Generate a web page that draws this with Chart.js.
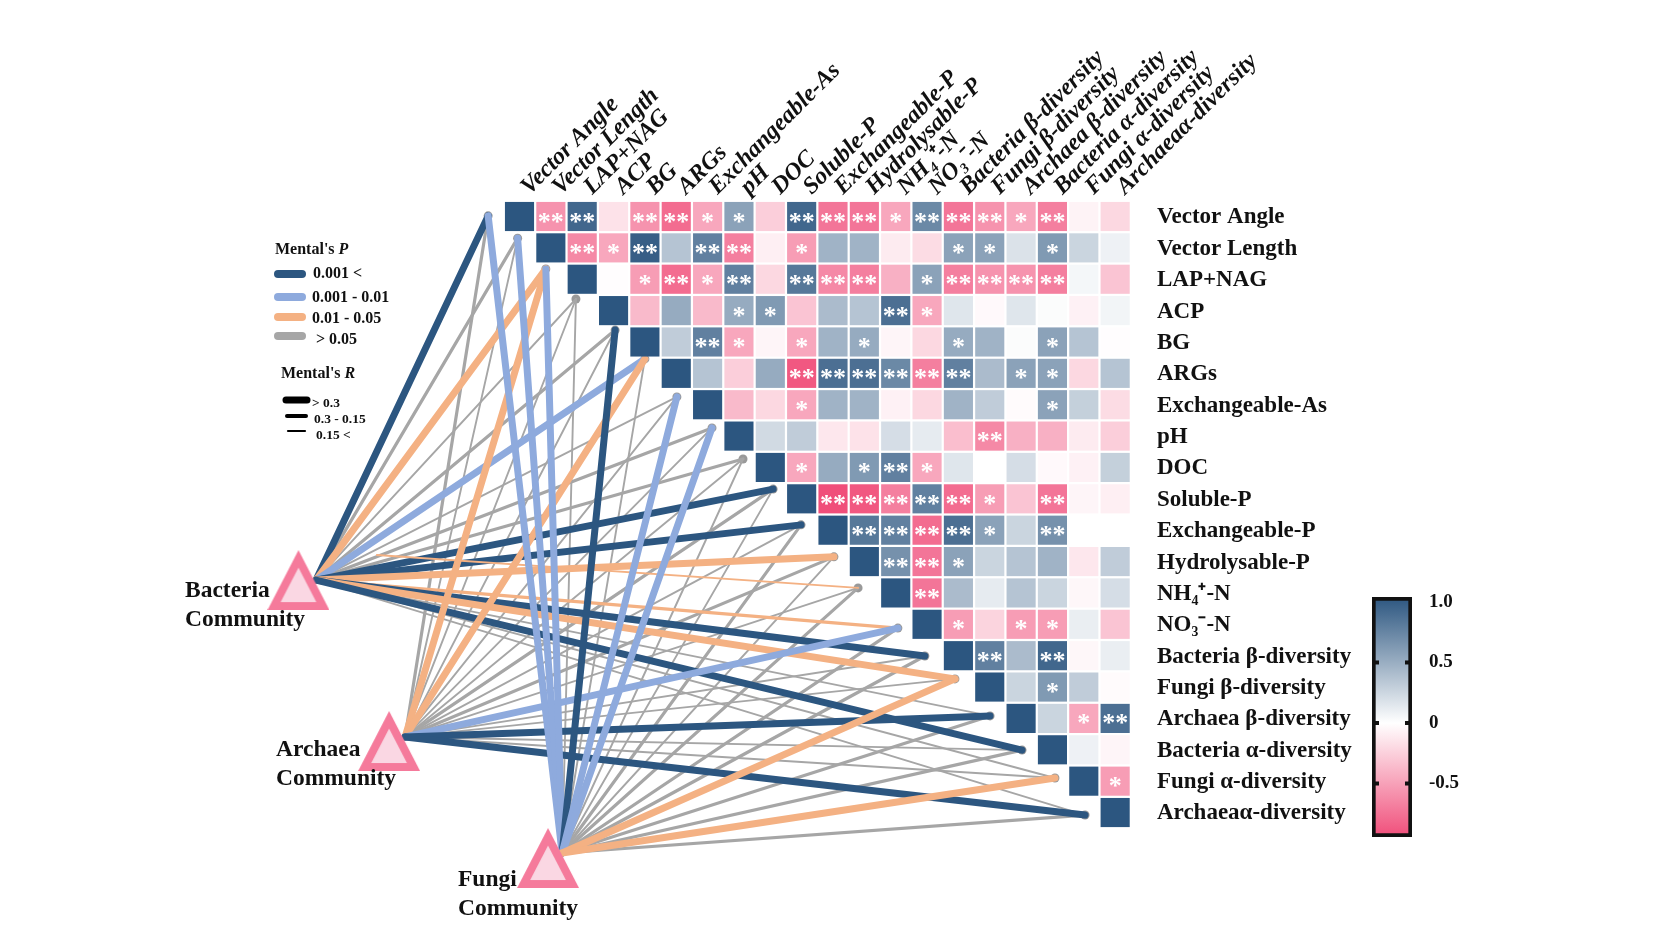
<!DOCTYPE html>
<html>
<head>
<meta charset="utf-8">
<title>Mantel correlation</title>
<script src="https://cdn.jsdelivr.net/npm/chart.js@4"></script>
<style>
  html, body { margin: 0; background: #fff; }
  #wrap { position: relative; width: 1662px; height: 935px; overflow: hidden; }
  canvas { position: absolute; filter: blur(0.5px); }
</style>
</head>
<body>
<div id="wrap">
  <canvas id="main" width="1662" height="935" style="left:0;top:0"></canvas>
  <canvas id="bar" width="130" height="270" style="left:1360px;top:585px"></canvas>
</div>
<script>
const categories = ["Vector Angle", "Vector Length", "LAP+NAG", "ACP", "BG", "ARGs", "Exchangeable-As", "pH", "DOC",
  "Soluble-P", "Exchangeable-P", "Hydrolysable-P", "NH₄⁺-N", "NO₃⁻-N", "Bacteria β-diversity", "Fungi β-diversity",
  "Archaea β-diversity", "Bacteria α-diversity", "Fungi α-diversity", "Archaeaα-diversity"];

// upper triangle, each row starts on the diagonal
const corr = [
  [1, -.55, .9, -.15, -.55, -.75, -.45, .55, -.25, .9, -.7, -.7, -.45, .7, -.7, -.55, -.45, -.65, -.06, -.2],
  [1, -.6, -.45, .95, .35, .75, -.65, -.08, -.5, .45, .45, -.1, -.18, .55, .55, .17, .6, .25, .08],
  [1, -.01, -.5, -.75, -.45, .75, -.2, .8, -.6, -.65, -.4, .55, -.65, -.55, -.55, -.65, .05, -.3],
  [1, -.35, .5, -.35, .5, .6, -.3, .4, .35, .85, -.45, .15, -.03, .15, .02, -.07, .06],
  [1, .3, .75, -.45, -.05, -.45, .45, .5, -.05, -.2, .5, .45, .02, .55, .35, -.01],
  [1, .35, -.25, .5, -.85, .85, .85, .7, -.65, .75, .4, .55, .55, -.2, .35],
  [1, -.35, -.2, -.45, .45, .45, -.07, -.2, .45, .3, -.02, .55, .28, -.18],
  [1, .22, .3, -.12, -.15, .2, .12, -.33, -.6, -.4, -.4, -.1, -.25],
  [1, -.45, .5, .6, .75, -.45, .15, 0, .2, -.03, -.07, .28],
  [1, -.9, -.85, -.65, .75, -.75, -.5, -.3, -.7, -.05, -.08],
  [1, .8, .75, -.75, .85, .55, .25, .65, 0, 0],
  [1, .65, -.7, .55, .25, .35, .45, -.12, .3],
  [1, -.7, .4, .12, .35, .25, -.04, .2],
  [1, -.5, -.22, -.5, -.5, .1, -.3],
  [1, .75, .4, .9, -.04, .1],
  [1, .25, .6, .3, -.02],
  [1, .25, -.45, .85],
  [1, .08, -.05],
  [1, -.5],
  [1]
];

// number of asterisks per cell, same shape as corr
const stars = [
  [0, 2, 2, 0, 2, 2, 1, 1, 0, 2, 2, 2, 1, 2, 2, 2, 1, 2, 0, 0],
  [0, 2, 1, 2, 0, 2, 2, 0, 1, 0, 0, 0, 0, 1, 1, 0, 1, 0, 0],
  [0, 0, 1, 2, 1, 2, 0, 2, 2, 2, 0, 1, 2, 2, 2, 2, 0, 0],
  [0, 0, 0, 0, 1, 1, 0, 0, 0, 2, 1, 0, 0, 0, 0, 0, 0],
  [0, 0, 2, 1, 0, 1, 0, 1, 0, 0, 1, 0, 0, 1, 0, 0],
  [0, 0, 0, 0, 2, 2, 2, 2, 2, 2, 0, 1, 1, 0, 0],
  [0, 0, 0, 1, 0, 0, 0, 0, 0, 0, 0, 1, 0, 0],
  [0, 0, 0, 0, 0, 0, 0, 0, 2, 0, 0, 0, 0],
  [0, 1, 0, 1, 2, 1, 0, 0, 0, 0, 0, 0],
  [0, 2, 2, 2, 2, 2, 1, 0, 2, 0, 0],
  [0, 2, 2, 2, 2, 1, 0, 2, 0, 0],
  [0, 2, 2, 1, 0, 0, 0, 0, 0],
  [0, 2, 0, 0, 0, 0, 0, 0],
  [0, 1, 0, 1, 1, 0, 0],
  [0, 2, 0, 2, 0, 0],
  [0, 0, 1, 0, 0],
  [0, 0, 1, 2],
  [0, 0, 0],
  [0, 1],
  [0]
];

// Mantel classes per variable. P: 0 <0.001, 1 0.001-0.01, 2 0.01-0.05, 3 >0.05. R: 0 >0.3, 1 0.3-0.15, 2 <0.15
const bacteriaP = [0, 3, 2, 3, 3, 1, 3, 3, 3, 0, 0, 2, 2, 2, 0, 2, 3, 0, 3, 3];
const bacteriaR = [0, 1, 0, 2, 1, 0, 2, 1, 1, 0, 0, 0, 2, 1, 0, 0, 2, 0, 2, 2];
const archaeaP = [3, 3, 2, 3, 3, 2, 3, 3, 3, 3, 3, 3, 3, 1, 3, 3, 0, 3, 3, 0];
const archaeaR = [1, 2, 0, 2, 2, 0, 2, 2, 2, 1, 2, 1, 2, 0, 2, 2, 0, 2, 2, 0];
const fungiP = [1, 1, 1, 3, 0, 3, 1, 1, 3, 3, 3, 3, 3, 3, 3, 2, 3, 3, 2, 3];
const fungiR = [0, 0, 0, 2, 0, 2, 0, 0, 2, 2, 1, 2, 1, 1, 1, 0, 1, 1, 0, 1];

// link ends next to the diagonal, in cell units of the x / y scales
const nodeCol = [-1, -.06, .84, 1.8, 3.05, 4, 5.02, 6.14, 7.13, 8.09, 8.98, 10.03, 10.8, 12.07, 12.93, 13.89, 15.01, 16.03, 17.08, 18.04];
const nodeRow = [-.02, .69, 1.67, 2.63, 3.62, 4.54, 5.75, 6.74, 7.73, 8.69, 9.83, 10.85, 11.84, 13.12, 14.01, 14.74, 15.92, 17.01, 17.9, 19.08];

const pLegend = ["0.001 <", "0.001 - 0.01", "0.01 - 0.05", "> 0.05"];
const rLegend = ["> 0.3", "0.3 - 0.15", "0.15 <"];
const barTicks = [1, .5, 0, -.5];
const barTickLabels = ["1.0", "0.5", "0", "-0.5"];

const pColors = ["#2c5680", "#8eaadd", "#f4b183", "#a6a6a6"];
const rWidths = [7, 3.2, 1.9];
const serif = '"Liberation Serif"';
const pxPerCol = 31.35, pxPerRow = 31.37;

const communities = [
  { name: "Bacteria", p: bacteriaP, r: bacteriaR, tri: [-7.05, 11.59], from: [-6.49, 11.59], text: [185, 591, 620] },
  { name: "Archaea", p: archaeaP, r: archaeaR, tri: [-4.16, 16.72], from: [-3.65, 16.59], text: [276, 750, 779] },
  { name: "Fungi", p: fungiP, r: fungiR, tri: [.91, 20.45], from: [1.36, 20.29], text: [458, 880, 909] }
];

function cellColor(v) {
  const end = v >= 0 ? [44, 86, 128] : [240, 78, 122];
  const t = Math.min(1, v >= 0 ? v : -v / .9);
  const c = end.map(e => Math.round(255 + (e - 255) * t));
  return `rgb(${c[0]},${c[1]},${c[2]})`;
}

// the community triangles are a bit taller than the built-in equilateral one
function triangleStyle(w, h, t) {
  const cv = document.createElement("canvas");
  cv.width = w;
  cv.height = h;
  const c = cv.getContext("2d");
  const half = Math.atan((w / 2) / h);
  const top = t / Math.sin(half);
  const inner = (h - t - top) * Math.tan(half);
  c.fillStyle = "#f57a9b";
  c.beginPath(); c.moveTo(w / 2, 0); c.lineTo(w, h); c.lineTo(0, h); c.closePath(); c.fill();
  c.fillStyle = "#fad7e3";
  c.beginPath(); c.moveTo(w / 2, top); c.lineTo(w / 2 + inner, h - t); c.lineTo(w / 2 - inner, h - t); c.closePath(); c.fill();
  return cv;
}

const cellData = [];
corr.forEach((row, i) => row.forEach((v, k) => {
  cellData.push({ x: i + k, y: i, v: v, s: stars[i][k] });
}));

// bottom dataset first, reversed below because Chart.js paints dataset 0 last
const datasets = [];
function linkDataset(c, j) {
  // the NH4 line of Bacteria starts short of the triangle in the original
  const start = c.name === "Bacteria" && j === 12 ? [-4.55, 10.79] : c.from;
  return {
    showLine: true,
    data: [{ x: start[0], y: start[1] }, { x: nodeCol[j], y: nodeRow[j] }],
    borderColor: pColors[c.p[j]],
    borderWidth: rWidths[c.r[j]],
    borderCapStyle: "round",
    pointRadius: 0
  };
}
datasets.push({
  data: nodeCol.map((x, i) => ({ x: x, y: nodeRow[i] })),
  pointRadius: 4.5, pointBackgroundColor: "#999", pointBorderWidth: 0
});
communities.forEach(c => c.p.forEach((p, j) => { if (p === 3) datasets.push(linkDataset(c, j)); }));
communities.forEach(c => c.p.forEach((p, j) => { if (p !== 3) datasets.push(linkDataset(c, j)); }));
datasets.push({
  data: communities.map(c => ({ x: c.tri[0], y: c.tri[1] })),
  pointStyle: triangleStyle(62, 60, 8), pointRadius: 30
});
datasets.push({
  data: cellData,
  pointStyle: "rect", pointRadius: 20.6, pointBorderWidth: 0,
  pointBackgroundColor: ctx => cellColor(ctx.raw.v)
});
datasets.reverse();

function matrixTicks(scale) {
  scale.ticks = categories.map((_, i) => ({ value: i }));
}

// fixed axis box, so the tick labels do not squeeze the plot area
function fixBox(scale, prop, size) {
  scale[prop] = size;
  scale.paddingLeft = scale.paddingRight = scale.paddingTop = scale.paddingBottom = 0;
}

function textRuns(ctx, runs, x, y) {
  runs.forEach(r => {
    ctx.font = r[1];
    ctx.fillText(r[0], x, y);
    x += ctx.measureText(r[0]).width;
  });
}

// asterisks, community names and the two line legends
const annotations = {
  id: "annotations",
  afterDatasetsDraw(chart) {
    const ctx = chart.ctx, xs = chart.scales.x, ys = chart.scales.y;
    ctx.save();
    ctx.textBaseline = "alphabetic";
    ctx.textAlign = "center";
    ctx.fillStyle = "#fff";
    ctx.font = `bold 26px ${serif}`;
    cellData.forEach(c => {
      if (c.s) ctx.fillText("*".repeat(c.s), xs.getPixelForValue(c.x), ys.getPixelForValue(c.y) + 13);
    });

    ctx.textAlign = "left";
    ctx.textBaseline = "middle";
    ctx.fillStyle = "#111";
    ctx.font = `bold 23.5px ${serif}`;
    communities.forEach(c => {
      ctx.fillText(c.name, c.text[0], c.text[1]);
      ctx.fillText("Community", c.text[0], c.text[2]);
    });

    const b = `bold 16px ${serif}`, bi = `italic bold 16px ${serif}`;
    textRuns(ctx, [["Mental's ", b], ["P", bi]], 275, 250);
    textRuns(ctx, [["Mental's ", b], ["R", bi]], 281, 374);
    const pY = [274, 297, 317, 336], pTextY = [274, 298, 319, 340], pTextX = [313, 312, 312, 316];
    ctx.lineCap = "round";
    pLegend.forEach((t, i) => {
      ctx.strokeStyle = pColors[i];
      ctx.lineWidth = 8;
      ctx.beginPath(); ctx.moveTo(278, pY[i]); ctx.lineTo(302, pY[i]); ctx.stroke();
      ctx.font = b;
      ctx.fillText(t, pTextX[i], pTextY[i]);
    });
    const rY = [400, 416, 431], rTextY = [404, 420, 436], rTextX = [312, 314, 316], rX = [286, 287, 288], rEnd = [307, 306, 305], rW = [7, 4, 2.2];
    rLegend.forEach((t, i) => {
      ctx.strokeStyle = "#000";
      ctx.lineWidth = rW[i];
      ctx.beginPath(); ctx.moveTo(rX[i], rY[i]); ctx.lineTo(rEnd[i], rY[i]); ctx.stroke();
      ctx.font = `bold 13.5px ${serif}`;
      ctx.fillText(t, rTextX[i], rTextY[i]);
    });
    ctx.restore();
  }
};

new Chart(document.getElementById("main"), {
  type: "scatter",
  data: { datasets: datasets },
  plugins: [annotations],
  options: {
    responsive: false,
    animation: false,
    events: [],
    layout: { padding: 0, autoPadding: false },
    plugins: { legend: { display: false }, tooltip: { enabled: false } },
    scales: {
      x: {
        type: "linear",
        position: "top",
        min: -519.5 / pxPerCol,
        max: (1130 - 519.5) / pxPerCol,
        afterBuildTicks: matrixTicks,
        afterFit(scale) { fixBox(scale, "height", 201); },
        grid: { display: false, drawTicks: false },
        border: { display: false },
        ticks: {
          autoSkip: false, minRotation: 45, maxRotation: 45, padding: 0, labelOffset: 26,
          color: "#111",
          font: { family: serif, size: 24, weight: "bold", style: "italic" },
          callback: v => categories[v]
        }
      },
      y: {
        type: "linear",
        position: "right",
        reverse: true,
        min: (201 - 216.5) / pxPerRow,
        max: (935 - 216.5) / pxPerRow,
        afterBuildTicks: matrixTicks,
        afterFit(scale) { fixBox(scale, "width", 532); },
        grid: { display: false, drawTicks: false },
        border: { display: false },
        ticks: {
          autoSkip: false, padding: 27, labelOffset: 1,
          color: "#111",
          font: { family: serif, size: 23, weight: "bold" },
          callback: v => categories[v]
        }
      }
    }
  }
});

// colour bar
const barMarks = {
  id: "barMarks",
  afterDatasetsDraw(chart) {
    const ctx = chart.ctx, ys = chart.scales.y, area = chart.chartArea;
    ctx.save();
    ctx.fillStyle = "#111";
    [.5, 0, -.5].forEach(v => {
      const y = ys.getPixelForValue(v);
      ctx.fillRect(area.left + 3, y - 2, 4, 4);
      ctx.fillRect(area.right - 7, y - 2, 4, 4);
    });
    ctx.restore();
  }
};

new Chart(document.getElementById("bar"), {
  type: "bar",
  data: {
    labels: ["r"],
    datasets: [{
      data: [[-.942, 1.041]],
      borderColor: "#111",
      borderWidth: 4,
      borderSkipped: false,
      barPercentage: 1,
      categoryPercentage: 1,
      backgroundColor(ctx) {
        const area = ctx.chart.chartArea;
        if (!area) return "#fff";
        const ys = ctx.chart.scales.y;
        const g = ctx.chart.ctx.createLinearGradient(0, ys.getPixelForValue(1.041), 0, ys.getPixelForValue(-.942));
        const zero = 1.041 / (1.041 + .942);
        g.addColorStop(0, "#2c5680");
        g.addColorStop(zero, "#ffffff");
        g.addColorStop(1, "#f04e7a");
        return g;
      }
    }]
  },
  plugins: [barMarks],
  options: {
    responsive: false,
    animation: false,
    events: [],
    layout: { padding: { left: 12, top: 12, bottom: 18 }, autoPadding: false },
    plugins: { legend: { display: false }, tooltip: { enabled: false } },
    scales: {
      x: { display: false },
      y: {
        type: "linear",
        position: "right",
        min: -.942,
        max: 1.041,
        afterBuildTicks(scale) { scale.ticks = barTicks.map(v => ({ value: v })); },
        afterFit(scale) { fixBox(scale, "width", 78); },
        grid: { display: false, drawTicks: false },
        border: { display: false },
        ticks: {
          padding: 17,
          color: "#111",
          font: { family: serif, size: 19, weight: "bold" },
          callback: v => barTickLabels[barTicks.indexOf(v)]
        }
      }
    }
  }
});
</script>
</body>
</html>
